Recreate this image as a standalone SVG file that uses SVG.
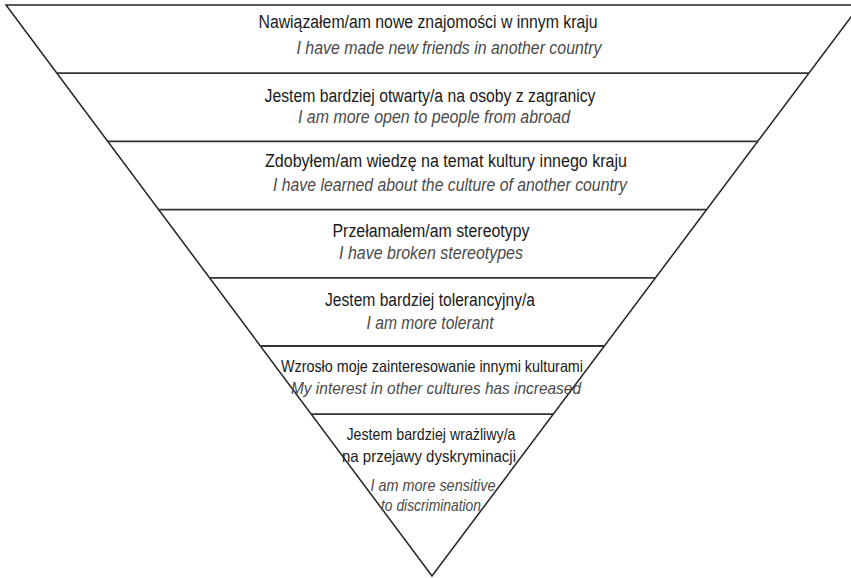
<svg xmlns="http://www.w3.org/2000/svg" width="851" height="578" viewBox="0 0 851 578">
<style>
.frame{fill:none;stroke:#222;stroke-width:1.5;stroke-linejoin:miter}
.div{stroke:#333;stroke-width:1.8}
.pl{font-family:"Liberation Sans",Arial,sans-serif;font-size:18px;fill:#1a1a1a;text-anchor:middle}
.en{font-family:"Liberation Sans",Arial,sans-serif;font-size:18px;font-style:italic;fill:#4a4a4a;text-anchor:middle}
.sm{font-size:16.5px}
</style>
<rect width="851" height="578" fill="#fff"/>
<g id="frame">
<polygon class="frame" points="6,5 860,5 432,576"/>
<line class="div" x1="56.9" y1="73.2" x2="808.9" y2="73.2"/>
<line class="div" x1="107.8" y1="141.4" x2="757.7" y2="141.4"/>
<line class="div" x1="158.6" y1="209.6" x2="706.5" y2="209.6"/>
<line class="div" x1="209.5" y1="277.8" x2="655.4" y2="277.8"/>
<line class="div" x1="260.4" y1="346" x2="604.3" y2="346"/>
<line class="div" x1="311.3" y1="414.2" x2="553.1" y2="414.2"/>
</g>
<g id="level1">
<text class="pl" x="428" y="28" textLength="339" lengthAdjust="spacingAndGlyphs">Nawiązałem/am nowe znajomości w innym kraju</text>
<text class="en" x="449" y="54" textLength="305" lengthAdjust="spacingAndGlyphs">I have made new friends in another country</text>
</g>
<g id="level2">
<text class="pl" x="430" y="102" textLength="331" lengthAdjust="spacingAndGlyphs">Jestem bardziej otwarty/a na osoby z zagranicy</text>
<text class="en" x="434" y="123" textLength="272" lengthAdjust="spacingAndGlyphs">I am more open to people from abroad</text>
</g>
<g id="level3">
<text class="pl" x="446" y="167" textLength="362" lengthAdjust="spacingAndGlyphs">Zdobyłem/am wiedzę na temat kultury innego kraju</text>
<text class="en" x="450" y="191" textLength="354" lengthAdjust="spacingAndGlyphs">I have learned about the culture of another country</text>
</g>
<g id="level4">
<text class="pl" x="431" y="237" textLength="197" lengthAdjust="spacingAndGlyphs">Przełamałem/am stereotypy</text>
<text class="en" x="431" y="259" textLength="184" lengthAdjust="spacingAndGlyphs">I have broken stereotypes</text>
</g>
<g id="level5">
<text class="pl" x="430" y="306" textLength="210" lengthAdjust="spacingAndGlyphs">Jestem bardziej tolerancyjny/a</text>
<text class="en" x="430" y="329" textLength="127" lengthAdjust="spacingAndGlyphs">I am more tolerant</text>
</g>
<g id="level6">
<text class="pl sm" x="432" y="372" textLength="302" lengthAdjust="spacingAndGlyphs">Wzrosło moje zainteresowanie innymi kulturami</text>
<text class="en sm" x="436" y="394" textLength="290" lengthAdjust="spacingAndGlyphs">My interest in other cultures has increased</text>
</g>
<g id="level7">
<text class="pl sm" x="431" y="440" textLength="169" lengthAdjust="spacingAndGlyphs">Jestem bardziej wrażliwy/a</text>
<text class="pl sm" x="429" y="462" textLength="174" lengthAdjust="spacingAndGlyphs">na przejawy dyskryminacji</text>
<text class="en sm" x="433" y="491" textLength="125" lengthAdjust="spacingAndGlyphs">I am more sensitive</text>
<text class="en sm" x="431" y="511" textLength="100" lengthAdjust="spacingAndGlyphs">to discrimination</text>
</g>
</svg>
